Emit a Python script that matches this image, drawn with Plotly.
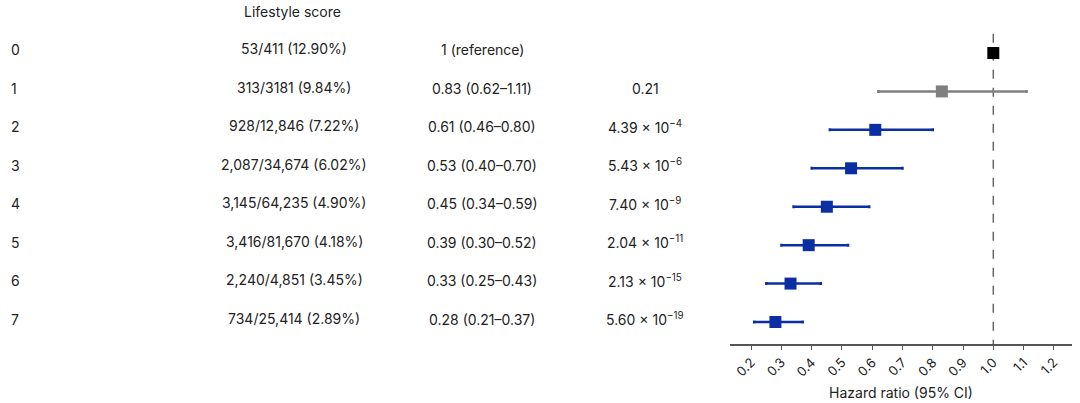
import plotly.graph_objects as go

scores = ["0", "1", "2", "3", "4", "5", "6", "7"]
events = ["53/411 (12.90%)", "313/3181 (9.84%)", "928/12,846 (7.22%)", "2,087/34,674 (6.02%)",
          "3,145/64,235 (4.90%)", "3,416/81,670 (4.18%)", "2,240/4,851 (3.45%)", "734/25,414 (2.89%)"]
hr_text = ["1 (reference)", "0.83 (0.62–1.11)", "0.61 (0.46–0.80)", "0.53 (0.40–0.70)",
           "0.45 (0.34–0.59)", "0.39 (0.30–0.52)", "0.33 (0.25–0.43)", "0.28 (0.21–0.37)"]
p_text = ["", "0.21", "4.39 × 10<sup>−4</sup>", "5.43 × 10<sup>−6</sup>", "7.40 × 10<sup>−9</sup>",
          "2.04 × 10<sup>−11</sup>", "2.13 × 10<sup>−15</sup>", "5.60 × 10<sup>−19</sup>"]
hr = [1.0, 0.83, 0.61, 0.53, 0.45, 0.39, 0.33, 0.28]
lo = [1.0, 0.62, 0.46, 0.40, 0.34, 0.30, 0.25, 0.21]
hi = [1.0, 1.11, 0.80, 0.70, 0.59, 0.52, 0.43, 0.37]
colors = ["#000000", "#808080", "#0b2fa3", "#0b2fa3", "#0b2fa3", "#0b2fa3", "#0b2fa3", "#0b2fa3"]
ticks = [0.2, 0.3, 0.4, 0.5, 0.6, 0.7, 0.8, 0.9, 1.0, 1.1, 1.2]

W, H = 1080, 403
FONT = "Inter, Open Sans, sans-serif"
TXT = "#222222"

fig = go.Figure()

for i in range(len(scores)):
    has_ci = hi[i] != lo[i]
    fig.add_trace(go.Scatter(
        x=[hr[i]], y=[i], mode="markers",
        marker=dict(symbol="square", size=12, color=colors[i]),
        error_x=dict(type="data", symmetric=False,
                     array=[hi[i] - hr[i]], arrayminus=[hr[i] - lo[i]],
                     color=colors[i], thickness=2.5, width=1.5, visible=has_ci),
        showlegend=False, hoverinfo="skip"))

# reference line
fig.add_shape(type="line", xref="x", yref="y", x0=1.0, x1=1.0, y0=-0.5, y1=7.572,
              line=dict(color="#666666", width=1.5, dash="dash"), layer="below")

def px(xr):
    return xr / W

ann = []
ann.append(dict(x=px(292), y=-1.07, xref="paper", yref="y", text="Lifestyle score",
                showarrow=False, xanchor="center", yanchor="middle",
                font=dict(family=FONT, size=14, color=TXT)))
for i in range(len(scores)):
    ann.append(dict(x=px(9), y=i, xref="paper", yref="y", text=scores[i], showarrow=False,
                    xanchor="left", yanchor="middle", yshift=3,
                    font=dict(family=FONT, size=14, color=TXT)))
    ann.append(dict(x=px(294), y=i, xref="paper", yref="y", text=events[i], showarrow=False,
                    xanchor="center", yanchor="middle", yshift=4,
                    font=dict(family=FONT, size=14, color=TXT)))
    ann.append(dict(x=px(482), y=i, xref="paper", yref="y", text=hr_text[i], showarrow=False,
                    xanchor="center", yanchor="middle", yshift=3,
                    font=dict(family=FONT, size=14, color=TXT)))
    if p_text[i]:
        ann.append(dict(x=px(645), y=i, xref="paper", yref="y", text=p_text[i], showarrow=False,
                        xanchor="center", yanchor="middle", yshift=3,
                        font=dict(family=FONT, size=14, color=TXT)))

axis_y = 344
fig.update_layout(
    width=W, height=H,
    margin=dict(l=0, r=0, t=0, b=0, autoexpand=False),
    paper_bgcolor="white", plot_bgcolor="white",
    annotations=ann,
    xaxis=dict(domain=[px(730), px(1072)], range=[0.13, 1.26], automargin=False,
               tickmode="array", tickvals=ticks, ticktext=[f"{t:.1f}" for t in ticks],
               tickangle=-45, ticks="outside", ticklen=4, tickcolor="#555555",
               showline=True, linecolor="#555555", linewidth=1.5,
               showgrid=False, zeroline=False,
               tickfont=dict(family=FONT, size=13, color=TXT),
               title=dict(text="Hazard ratio (95% CI)", standoff=9,
                          font=dict(family=FONT, size=14, color=TXT))),
    yaxis=dict(domain=[(H - axis_y) / H, 1.0 - 8 / H], range=[7.572, -1.171], automargin=False,
               showticklabels=False, showline=False, showgrid=False, zeroline=False, ticks=""),
)

fig.write_html("out.html", config={"displayModeBar": False},
               post_script="document.body.style.margin='0px';")
